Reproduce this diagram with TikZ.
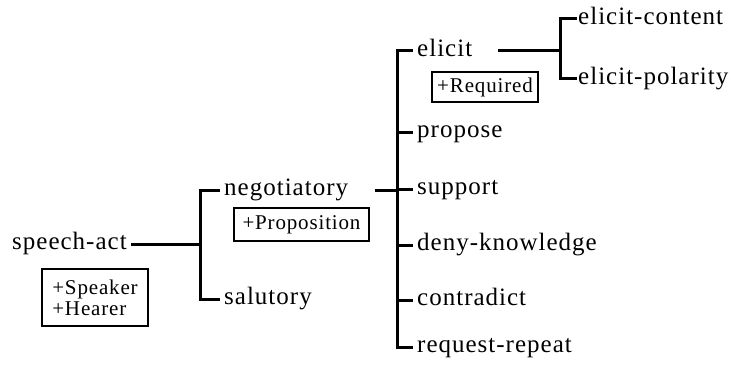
\documentclass[tikz,border=0pt]{standalone}
\usepackage{fontspec}
\setmainfont{Liberation Serif}[LetterSpace=4]
\begin{document}
\begin{tikzpicture}[x=1pt,y=-1pt,
  lab/.style={anchor=west,inner xsep=4pt,inner ysep=0pt,text height=17.5pt,text depth=6.5pt,font=\fontsize{25}{30}\selectfont},
  leaf/.style={lab,inner xsep=1pt},
  attr/.style={draw,line width=2.4pt,inner sep=0pt,align=left,font=\fontsize{21}{21}\selectfont},
  link/.style={line width=3pt}]
\useasboundingbox (0,0) rectangle (731,369);
% nodes
\node[lab] (sa) at (8,244) {speech-act};
\node[attr,minimum width=106pt,minimum height=57pt] (spk) at (95,297.5) {+Speaker\\+Hearer};
\node[lab] (neg) at (220,190) {negotiatory};
\node[attr,minimum width=135pt,minimum height=33pt] (prop) at (301.5,224.5) {+Proposition};
\node[lab] (sal) at (220,299) {salutory};
\node[lab] (el) at (413,51) {elicit};
\node[attr,minimum width=106pt,minimum height=30pt] (req) at (485,87) {+Required};
\node[lab] (pr) at (413,132) {propose};
\node[lab] (su) at (413,189) {support};
\node[lab] (dk) at (413,245) {deny-knowledge};
\node[lab] (co) at (413,300) {contradict};
\node[lab] (rr) at (413,347) {request-repeat};
\node[leaf] (ec) at (577,19) {elicit-content};
\node[leaf] (ep) at (577,79) {elicit-polarity};
% junction coordinates
\coordinate (b1) at (200,244);
\coordinate (n2) at (375,190);
\coordinate (b2) at (397,190);
\coordinate (e3) at (498,51);
\coordinate (b3) at (560,50);
% connectors
\draw[link] (sa.east) -- (sa.east -| b1);
\draw[link] (neg.west) -| (b1) |- (sal.west);
\draw[link] (n2) -- (n2 -| b2);
\draw[link] (el.west) -| (b2) |- (rr.west);
\foreach \n in {pr,su,dk,co} \draw[link] (\n.west) -- (\n.west -| b2);
\draw[link] (e3) -- (e3 -| b3);
\draw[link] (ec.west) -| (b3) |- (ep.west);
\end{tikzpicture}
\end{document}
